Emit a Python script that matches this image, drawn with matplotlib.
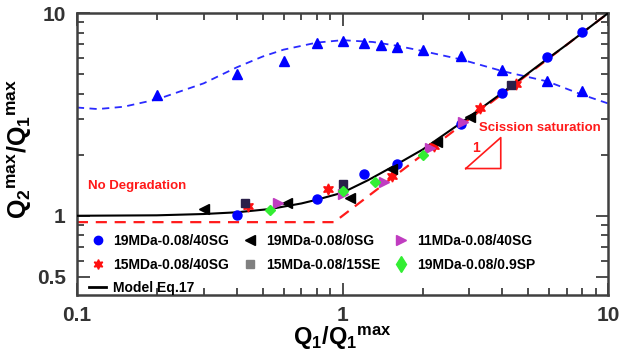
import numpy as np
import matplotlib
matplotlib.use('Agg')
import matplotlib.pyplot as plt
from matplotlib.lines import Line2D

plt.rcParams['font.family'] = ['Liberation Sans', 'DejaVu Sans']
plt.rcParams['mathtext.fontset'] = 'custom'
plt.rcParams['mathtext.rm'] = 'Liberation Sans:bold'
plt.rcParams['mathtext.it'] = 'Liberation Sans:bold'
plt.rcParams['mathtext.bf'] = 'Liberation Sans:bold'

# blue triangles + dashed fit (no legend entry)
tri_x = [0.2, 0.4, 0.6, 0.8, 1.0, 1.2, 1.4, 1.6, 2.0, 2.8, 4.0, 5.9, 8.0]
tri_y = [3.93, 4.99, 5.78, 7.1, 7.27, 7.1, 6.94, 6.79, 6.56, 6.13, 5.22, 4.6, 4.11]
fit_x = [0.1, 0.12, 0.15, 0.2, 0.3, 0.4, 0.5, 0.6, 0.8, 1.0, 1.3, 1.6, 2.0, 2.8, 4.0, 5.9, 8.0, 10.0]
fit_y = [3.42, 3.36, 3.45, 3.75, 4.5, 5.4, 6.1, 6.6, 7.15, 7.35, 7.2, 6.9, 6.5, 5.9, 5.17, 4.6, 3.95, 3.58]

# model curve
model_x = [0.1, 0.2, 0.3, 0.4, 0.535, 0.7, 0.8, 1.0, 1.25, 1.56, 2.0, 2.8, 4.0, 5.7, 7.0, 10.0]
model_y = [1.0, 1.005, 1.02, 1.04, 1.08, 1.15, 1.2, 1.3, 1.5, 1.76, 2.12, 2.88, 4.05, 5.75, 7.0, 10.0]

# red dashed limits
lim_x = [0.1, 0.93, 10.0]
lim_y = [0.93, 0.93, 10.0]

c19_40_x = [0.4, 0.8, 1.2, 1.6, 2.8, 4.0, 5.9, 7.95]
c19_40_y = [1.01, 1.21, 1.61, 1.81, 2.82, 4.02, 6.05, 8.05]
c19_0_x = [0.30, 0.62, 1.07, 1.54, 2.26, 3.03]
c19_0_y = [1.08, 1.16, 1.23, 1.71, 2.3, 3.06]
c11_40_x = [0.57, 1.0, 1.43, 2.14, 2.85]
c11_40_y = [1.15, 1.28, 1.46, 2.17, 2.89]
c15_40_x = [0.44, 0.88, 1.54, 2.2, 3.3, 4.5]
c15_40_y = [1.12, 1.35, 1.57, 2.22, 3.39, 4.45]
c15_15_x = [0.43, 1.0, 4.3]
c15_15_y = [1.15, 1.44, 4.4]
c19_sp_x = [0.535, 1.0, 1.32, 2.0]
c19_sp_y = [1.07, 1.33, 1.47, 2.0]

fig = plt.figure(figsize=(6.2, 3.53), dpi=100)
ax = fig.add_axes([0.124, 0.164, 0.857, 0.799])
ax.set_xscale('log')
ax.set_yscale('log')

ax.plot(fit_x, fit_y, ls=(0, (4, 3)), color='#2a2aff', lw=1.3, zorder=2)
ax.plot(tri_x, tri_y, '^', color='#0000ff', ms=7.5, ls='none', zorder=3)
ax.plot(lim_x, lim_y, ls=(0, (5, 3.5)), color='#ff1a1a', lw=1.6, zorder=2)
ax.plot(model_x, model_y, color='black', lw=1.5, zorder=3)

ax.plot(c19_40_x, c19_40_y, 'o', color='#0000ff', ms=6.5, ls='none', zorder=4)
ax.plot(c15_40_x, c15_40_y, marker=(6, 1, 0), color='#ff1010', ms=8, ls='none', zorder=5)
ax.plot(c15_15_x, c15_15_y, 's', color='#2a1f4a', ms=5.5, ls='none', zorder=5)
ax.plot(c19_0_x, c19_0_y, '<', color='black', ms=7.5, ls='none', zorder=5)
ax.plot(c11_40_x, c11_40_y, '>', color='#c03cc0', ms=7.5, ls='none', zorder=5)
ax.plot(c19_sp_x, c19_sp_y, 'D', color='#33ee33', ms=5.5, ls='none', zorder=6)

handles = [
    Line2D([], [], marker='o', color='#0000ff', ls='none', ms=6),
    Line2D([], [], marker=(6, 1, 0), color='#ff1010', ls='none', ms=7),
    Line2D([], [], color='black', lw=2),
    Line2D([], [], marker='<', color='black', ls='none', ms=7),
    Line2D([], [], marker='s', color='#808080', ls='none', ms=5.5),
    Line2D([], [], marker='>', color='#c03cc0', ls='none', ms=7),
    Line2D([], [], marker='d', color='#33ee33', ls='none', ms=8),
]
labels = ['19MDa-0.08/40SG', '15MDa-0.08/40SG', 'Model Eq.17',
          '19MDa-0.08/0SG', '15MDa-0.08/15SE',
          '11MDa-0.08/40SG', '19MDa-0.08/0.9SP']
ax.legend(handles, labels, ncol=3, loc='lower left', bbox_to_anchor=(0.0, -0.045),
          frameon=False, prop={'weight': 'bold', 'size': 10},
          handlelength=1.2, handletextpad=0.5, columnspacing=0.95, labelspacing=0.7)

ax.text(0.11, 1.35, 'No Degradation', color='#ff1a1a', fontsize=9.5, fontweight='bold')
ax.text(3.25, 2.62, 'Scission saturation', color='#ff1a1a', fontsize=9.5, fontweight='bold')
ax.plot([2.91, 3.94, 3.94, 2.91], [1.71, 1.71, 2.43, 1.71], color='#ff1a1a', lw=1.2)
ax.text(3.17, 2.17, '1', color='#ff1a1a', fontsize=10, fontweight='bold', ha='center', va='center')

ax.set_xlim(0.1, 10)
ax.set_ylim(0.406, 10)
ax.set_xticks([0.1, 1, 10])
ax.set_xticklabels(['0.1', '1', '10'])
ax.set_yticks([0.5, 1, 10])
ax.set_yticklabels(['0.5', '1', '10'])
ax.tick_params(which='both', direction='in', top=True, right=True, color='#404040', width=1.3)
ax.tick_params(which='major', length=9, labelsize=15, pad=8)
ax.tick_params(which='minor', length=5)
ax.tick_params(axis='x', which='major', pad=8)
for t in ax.get_xticklabels() + ax.get_yticklabels():
    t.set_fontweight('bold')
    t.set_color('#333333')
for s in ax.spines.values():
    s.set_linewidth(1.8)
    s.set_color('#404040')

ax.set_xlabel(r'$\mathrm{Q_{1}/Q_{1}{}^{max}}$', fontsize=17)
ax.xaxis.set_label_coords(0.5, -0.155)
ax.xaxis.label.set_va('center')
ax.set_ylabel(r'$\mathrm{Q_{2}{}^{max}/Q_{1}{}^{max}}$', fontsize=18)
ax.yaxis.set_label_coords(-0.108, 0.52)
ax.yaxis.label.set_va('center')

fig.savefig('out.png', dpi=100)
